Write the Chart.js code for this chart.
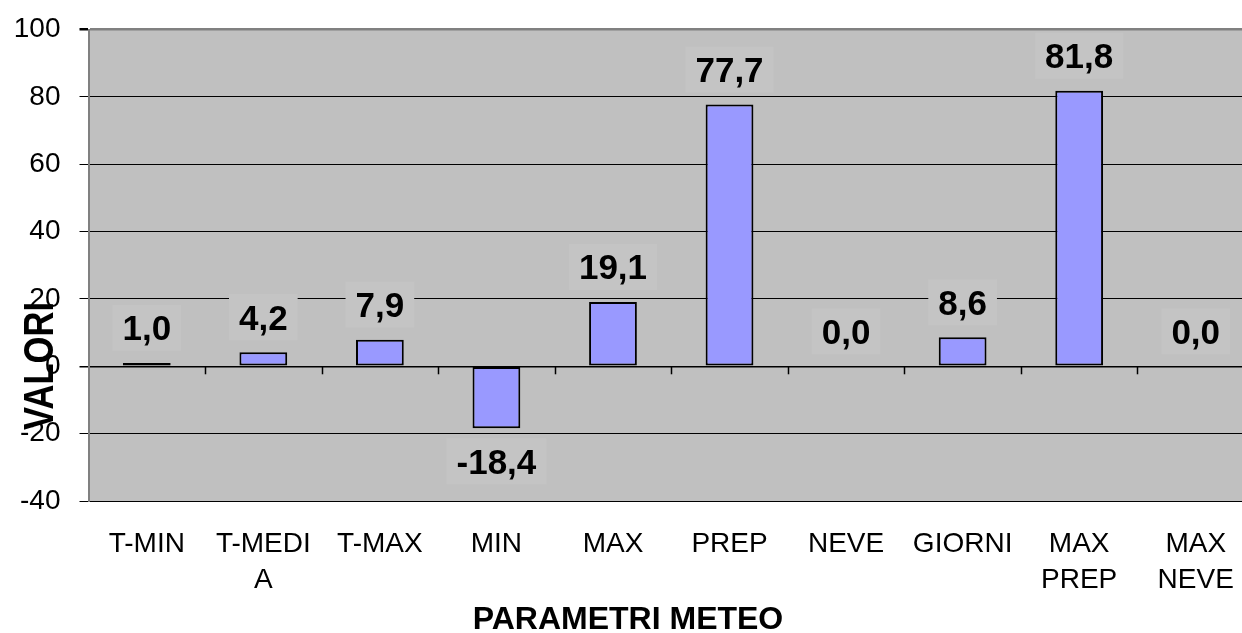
<!DOCTYPE html>
<html>
<head>
<meta charset="utf-8">
<script src="https://cdn.jsdelivr.net/npm/chart.js@4/dist/chart.umd.min.js"></script>
<style>
  html, body { margin: 0; padding: 0; background: #ffffff; overflow: hidden; width: 1242px; height: 633px; }
  canvas { display: block; }
</style>
</head>
<body>
<canvas id="meteo" width="1256" height="633"></canvas>
<script>
// Weather parameters and their values
const categories = ['T-MIN', ['T-MEDI', 'A'], 'T-MAX', 'MIN', 'MAX', 'PREP', 'NEVE', 'GIORNI', ['MAX', 'PREP'], ['MAX', 'NEVE']];
const values = [1.0, 4.2, 7.9, -18.4, 19.1, 77.7, 0.0, 8.6, 81.8, 0.0];
const yTickValues = [-40, -20, 0, 20, 40, 60, 80, 100];
const xTitle = 'PARAMETRI METEO';
const yTitle = 'VALORI';

const FONT = "'Liberation Sans', Arial, Helvetica, sans-serif";

function fmt(v) {
  return v.toFixed(1).replace('.', ',');
}

// Grey plot area, zero-line category ticks, value labels and axis titles
const plotDecor = {
  id: 'plotDecor',
  beforeDraw(chart) {
    const { ctx, chartArea: a } = chart;
    ctx.save();
    ctx.fillStyle = '#c0c0c0';
    ctx.fillRect(a.left, a.top, a.right - a.left, a.bottom - a.top);
    ctx.restore();
  },
  afterDatasetsDraw(chart) {
    const { ctx } = chart;
    const xs = chart.scales.x;
    const ys = chart.scales.y;
    const y0 = ys.getPixelForValue(0);

    // category separators hanging below the zero line
    ctx.save();
    ctx.strokeStyle = '#000000';
    ctx.lineWidth = 1.5;
    for (let i = 1; i < categories.length; i++) {
      const px = Math.round((xs.getPixelForValue(i - 1) + xs.getPixelForValue(i)) / 2) + 0.5;
      ctx.beginPath();
      ctx.moveTo(px, y0);
      ctx.lineTo(px, y0 + 8);
      ctx.stroke();
    }
    ctx.restore();

    // value labels on a light box
    const meta = chart.getDatasetMeta(0);
    ctx.save();
    ctx.font = 'bold 35px ' + FONT;
    ctx.textAlign = 'center';
    ctx.textBaseline = 'alphabetic';
    meta.data.forEach((bar, i) => {
      const v = values[i];
      const txt = fmt(v);
      const cy = v >= 0 ? bar.y - 35 : bar.y + 33;
      const w = ctx.measureText(txt).width;
      ctx.fillStyle = '#c4c4c4';
      ctx.fillRect(bar.x - w / 2 - 10, cy - 23, w + 20, 46);
      ctx.fillStyle = '#000000';
      ctx.fillText(txt, bar.x, cy + 12.5);
    });
    ctx.restore();
  },
  afterDraw(chart) {
    const { ctx } = chart;
    ctx.save();
    ctx.fillStyle = '#000000';

    // x axis title
    ctx.font = 'bold 32px ' + FONT;
    ctx.textAlign = 'center';
    ctx.textBaseline = 'alphabetic';
    ctx.fillText(xTitle, 628, 617 + 11.5);

    // y axis title, rotated
    ctx.translate(37, 366);
    ctx.rotate(-Math.PI / 2);
    ctx.font = 'bold 43px ' + FONT;
    const w = ctx.measureText(yTitle).width;
    ctx.scale(128 / w, 1);
    ctx.fillText(yTitle, 0, 15.5);
    ctx.restore();
  }
};

new Chart(document.getElementById('meteo'), {
  type: 'bar',
  data: {
    labels: categories,
    datasets: [{
      data: values,
      backgroundColor: '#9999ff',
      borderColor: '#000000',
      borderWidth: 2,
      borderSkipped: false,
      categoryPercentage: 1.0,
      barPercentage: 0.41
    }]
  },
  options: {
    responsive: false,
    animation: false,
    events: [],
    layout: { padding: { top: 29.5, right: 2, left: 0, bottom: 0 } },
    plugins: {
      legend: { display: false },
      tooltip: { enabled: false },
      title: { display: false }
    },
    scales: {
      x: {
        grid: { display: false, drawTicks: false },
        border: { display: false },
        ticks: {
          autoSkip: false,
          maxRotation: 0,
          minRotation: 0,
          padding: 25,
          color: '#000000',
          font: { family: FONT, size: 28, lineHeight: 1.2857 }
        },
        afterFit(scale) {
          scale.height = 132;
          scale.paddingLeft = 0;
          scale.paddingRight = 0;
        }
      },
      y: {
        min: -40,
        max: 100,
        afterBuildTicks(scale) {
          scale.ticks = yTickValues.map(v => ({ value: v }));
        },
        grid: {
          color: ctx => (ctx.tick && ctx.tick.value === 100) ? '#808080' : '#000000',
          lineWidth: ctx => (ctx.tick && ctx.tick.value === 100) ? 2.5 : (ctx.tick && ctx.tick.value === 0 ? 1.5 : 1),
          tickColor: '#000000',
          tickLength: 9,
          drawTicks: true
        },
        border: { display: true, color: '#808080', width: 2 },
        ticks: {
          padding: 19,
          color: '#000000',
          font: { family: FONT, size: 28 },
          callback: v => String(v)
        },
        afterFit(scale) {
          scale.width = 88.5;
          scale.paddingTop = 0;
          scale.paddingBottom = 0;
        }
      }
    }
  },
  plugins: [plotDecor]
});
</script>
</body>
</html>
